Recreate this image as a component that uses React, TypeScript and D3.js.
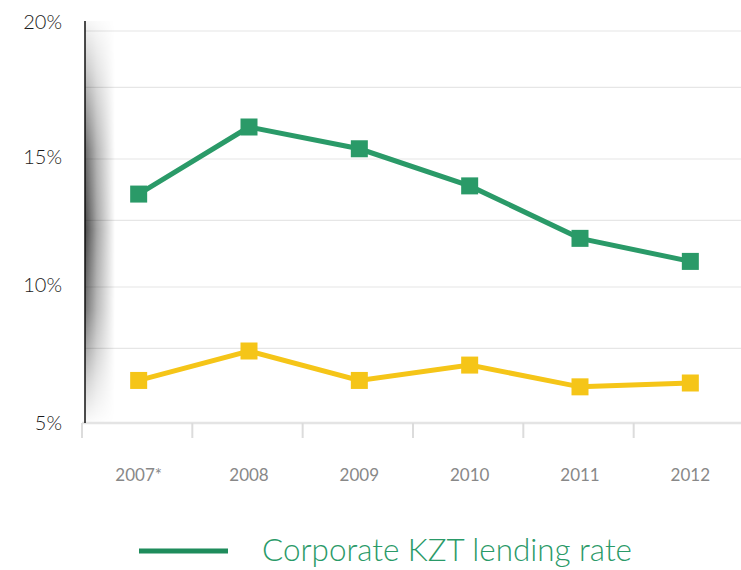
import React from "react";
import * as d3 from "d3";

const categories = ["2007*", "2008", "2009", "2010", "2011", "2012"];
const corporateRate = [13.63, 16.25, 15.4, 13.95, 11.9, 11.0];
const otherRate = [6.35, 7.5, 6.35, 6.95, 6.1, 6.25];
const yTickValues = [20, 15, 10, 5];
const yTickLabels = ["20%", "15%", "10%", "5%"];
const gridValues = [20, 17.8, 15, 12.6, 10, 7.6];
const legendLabel = "Corporate KZT lending rate";

const W = 741;
const H = 570;
const GREEN = "#2a9a68";
const YELLOW = "#f5c518";

export default function App() {
  const x = d3.scaleBand<string>().domain(categories).range([82, 744]);
  const y = d3.scaleLinear().domain([10, 20]).range([287, 31]);
  const axisBottom = 423;
  const cx = (c: string) => (x(c) as number) + x.bandwidth() / 2 + 1.5;
  const line = d3
    .line<number>()
    .x((_, i) => cx(categories[i]))
    .y((d) => y(d));
  const ms = 17;
  const labelY = (v: number) => (v === 5 ? 422 : v === 20 ? 21 : y(v) - 3);

  return (
    <svg
      width={W}
      height={H}
      style={{ position: "absolute", left: 0, top: 0, background: "#fff" }}
      fontFamily="Lato, 'Open Sans', sans-serif"
    >
      <defs>
        <linearGradient id="shH" x1="0" x2="1" y1="0" y2="0">
          <stop offset="0%" stopColor="#000" stopOpacity={0.72} />
          <stop offset="40%" stopColor="#000" stopOpacity={0.35} />
          <stop offset="100%" stopColor="#000" stopOpacity={0} />
        </linearGradient>
        <linearGradient id="shV" x1="0" x2="0" y1="0" y2="1">
          <stop offset="0%" stopColor="#fff" stopOpacity={0.05} />
          <stop offset="12%" stopColor="#fff" stopOpacity={0.3} />
          <stop offset="32%" stopColor="#fff" stopOpacity={0.8} />
          <stop offset="52%" stopColor="#fff" stopOpacity={1} />
          <stop offset="72%" stopColor="#fff" stopOpacity={0.75} />
          <stop offset="90%" stopColor="#fff" stopOpacity={0.25} />
          <stop offset="100%" stopColor="#fff" stopOpacity={0.02} />
        </linearGradient>
        <mask id="shMask" maskUnits="userSpaceOnUse" x={85} y={21} width={40} height={402}>
          <rect x={85} y={21} width={40} height={402} fill="url(#shV)" />
        </mask>
      </defs>

      {/* gridlines */}
      {gridValues.map((v) => (
        <line
          key={v}
          x1={85}
          x2={W}
          y1={y(v)}
          y2={y(v)}
          stroke="#e6e6e6"
          strokeWidth={1.2}
        />
      ))}

      {/* shadow near y axis */}
      <rect
        x={85}
        y={21}
        width={30}
        height={402}
        fill="url(#shH)"
        mask="url(#shMask)"
      />

      {/* x axis baseline and ticks */}
      <line x1={82} x2={W} y1={axisBottom} y2={axisBottom} stroke="#e4e4e4" strokeWidth={2.5} />
      {categories.map((c) => (
        <line
          key={c}
          x1={x(c) as number}
          x2={x(c) as number}
          y1={axisBottom}
          y2={438}
          stroke="#dcdcdc"
          strokeWidth={2}
        />
      ))}

      {/* y axis */}
      <line x1={85} x2={85} y1={21} y2={axisBottom} stroke="#111" strokeWidth={1.5} />

      {/* y labels */}
      {yTickValues.map((v, i) => (
        <text
          key={v}
          x={62}
          y={labelY(v)}
          textAnchor="end"
          dominantBaseline="central"
          fontSize={20}
          fontWeight={300}
          fill="#1a1a1a"
        >
          {yTickLabels[i]}
        </text>
      ))}

      {/* x labels */}
      {categories.map((c) => (
        <text
          key={c}
          x={cx(c)}
          y={474}
          textAnchor="middle"
          dominantBaseline="central"
          fontSize={17}
          fontWeight={400}
          fill="#888"
        >
          {c}
        </text>
      ))}

      {/* series */}
      <path d={line(otherRate) || ""} fill="none" stroke={YELLOW} strokeWidth={5} />
      {otherRate.map((v, i) => (
        <rect
          key={"o" + i}
          x={cx(categories[i]) - ms / 2}
          y={y(v) - ms / 2}
          width={ms}
          height={ms}
          fill={YELLOW}
        />
      ))}
      <path d={line(corporateRate) || ""} fill="none" stroke={GREEN} strokeWidth={5} />
      {corporateRate.map((v, i) => (
        <rect
          key={"c" + i}
          x={cx(categories[i]) - ms / 2}
          y={y(v) - ms / 2}
          width={ms}
          height={ms}
          fill={GREEN}
        />
      ))}

      {/* legend */}
      <line x1={139} x2={228} y1={551} y2={551} stroke="#1f8c5c" strokeWidth={5} />
      <text
        x={262}
        y={561}
        fontSize={31}
        fontWeight={300}
        fill={GREEN}
        textLength={370}
        lengthAdjust="spacingAndGlyphs"
      >
        {legendLabel}
      </text>
    </svg>
  );
}
